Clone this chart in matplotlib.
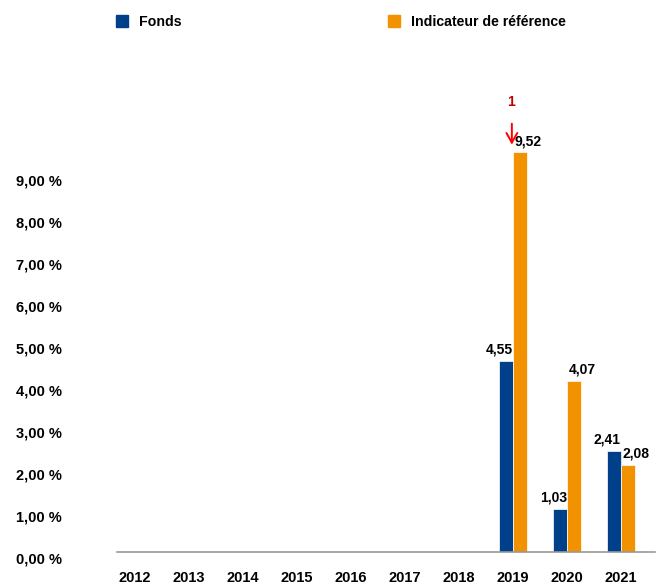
import matplotlib
matplotlib.use("Agg")
import matplotlib.pyplot as plt
import matplotlib.patches as mpatches
import matplotlib.transforms as mtransforms
import numpy as np

plt.rcParams["font.family"] = ["Liberation Sans", "DejaVu Sans"]

# données
years = ["2012", "2013", "2014", "2015", "2016", "2017", "2018", "2019", "2020", "2021"]
fonds = [None, None, None, None, None, None, None, 4.55, 1.03, 2.41]
indice = [None, None, None, None, None, None, None, 9.52, 4.07, 2.08]
yticks = [0, 1, 2, 3, 4, 5, 6, 7, 8, 9]

BLEU = "#003f8a"
ORANGE = "#f39200"


def fmt(v):
    return f"{v:.2f}".replace(".", ",")


def main():
    fig = plt.figure(figsize=(6.58, 5.88), dpi=100)
    ax = fig.add_axes([117 / 658, 36 / 588, 538 / 658, 459 / 588])

    x = np.arange(len(years))
    w = 0.26
    fv = [v if v is not None else 0 for v in fonds]
    iv = [v if v is not None else 0 for v in indice]
    ax.bar(x - w / 2, fv, w, color=BLEU, edgecolor="white", linewidth=0.5)
    ax.bar(x + w / 2, iv, w, color=ORANGE, edgecolor="white", linewidth=0.5)

    # étiquettes de valeur
    for i, v in enumerate(fonds):
        if v is None:
            continue
        ax.annotate(fmt(v), xy=(x[i], v), xytext=(0, 3), textcoords="offset points",
                    ha="right", va="bottom", fontsize=10, fontweight="bold")
    for i, v in enumerate(indice):
        if v is None:
            continue
        ax.annotate(fmt(v), xy=(x[i], v), xytext=(1, 3), textcoords="offset points",
                    ha="left", va="bottom", fontsize=10, fontweight="bold")

    # flèche de note
    i19 = years.index("2019")
    ax.annotate("", xy=(x[i19] - 0.02, 9.7), xytext=(x[i19] - 0.02, 10.2),
                arrowprops=dict(arrowstyle="->,head_length=0.5,head_width=0.28",
                                color="#ff0000", lw=1.4, mutation_scale=14,
                                shrinkA=0, shrinkB=0))
    ax.text(x[i19] - 0.03, 10.55, "1", color="#c00000", ha="center", va="bottom",
            fontsize=10, fontweight="bold")

    ax.set_xlim(-0.33, 9.63)
    ax.set_ylim(0, 10.93)
    ax.set_xticks(x)
    ax.set_xticklabels(years, fontsize=10.5, fontweight="bold")
    ax.set_yticks(yticks)
    ax.set_yticklabels([fmt(v) + " %" for v in yticks], fontsize=10.5, fontweight="bold", ha="left")
    ax.tick_params(axis="y", length=0, pad=73)
    ax.tick_params(axis="x", length=0, pad=14)
    decal = mtransforms.ScaledTranslation(0, -4 / 72, fig.dpi_scale_trans)
    for lab in ax.get_yticklabels():
        lab.set_transform(lab.get_transform() + decal)
    for s in ["top", "right", "left"]:
        ax.spines[s].set_visible(False)
    ax.spines["bottom"].set_color("#999999")
    ax.spines["bottom"].set_linewidth(1.2)

    handles = [mpatches.Patch(color=BLEU, label="Fonds"),
               mpatches.Patch(color=ORANGE, label="Indicateur de référence")]
    fig.legend(handles=handles, loc="upper left", bbox_to_anchor=(116 / 658, 1 - 15 / 588),
               ncol=2, frameon=False, borderpad=0, borderaxespad=0,
               handlelength=0.85, handleheight=0.9, handletextpad=0.75,
               columnspacing=14.6, prop={"size": 10.2, "weight": "bold"})

    fig.savefig("out.png", dpi=100)


if __name__ == "__main__":
    main()
